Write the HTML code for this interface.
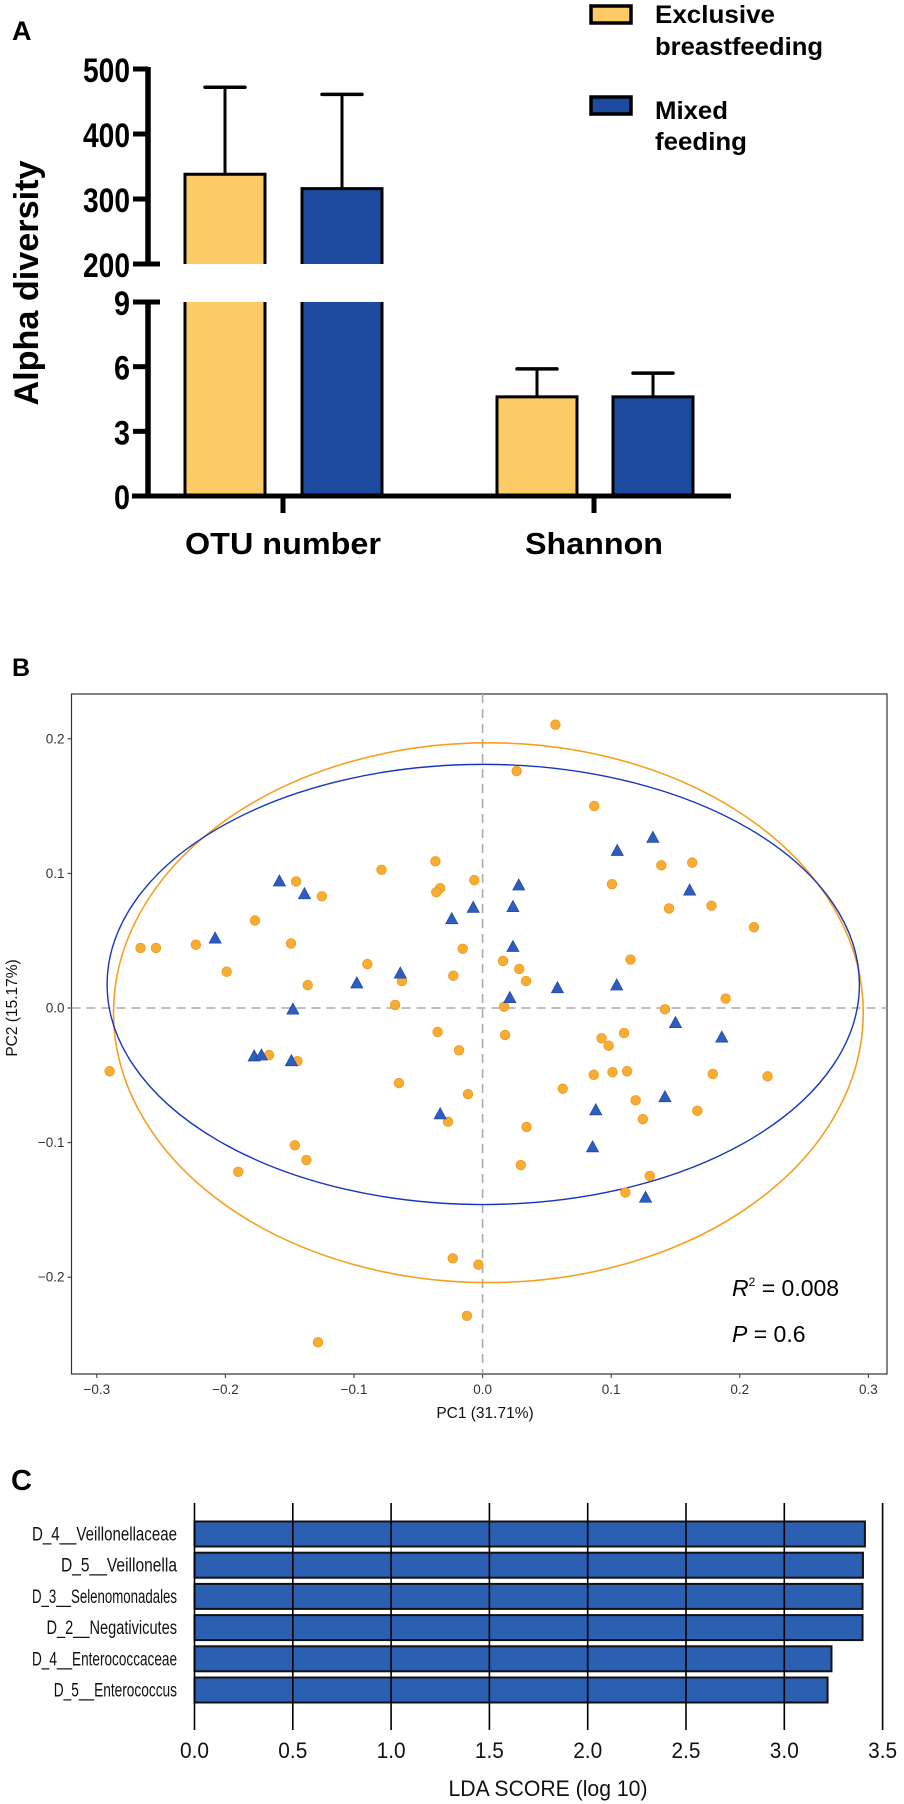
<!DOCTYPE html>
<html><head><meta charset="utf-8"><style>
html,body{margin:0;padding:0;background:#fff;}
svg{display:block;}
text{font-family:"Liberation Sans",sans-serif;}
</style></head><body>
<svg id="fig" width="904" height="1804" viewBox="0 0 904 1804" xmlns="http://www.w3.org/2000/svg">
<g id="pa"></g>
<g id="pb"></g>
<g id="pc"></g>
</svg>
<script>
// ---------- Panel A data ----------
const aGroups = ["OTU number", "Shannon"];
const aSeries = ["Exclusive breastfeeding", "Mixed feeding"];
const aMeans = [[338, 316], [4.6, 4.6]];
const aErrTop = [[472, 461], [5.9, 5.7]];
const aUpperTicks = [200, 300, 400, 500];
const aLowerTicks = [0, 3, 6, 9];

// ---------- Panel B data ----------
const ebX = [0.0566,0.0265,0.0868,-0.0367,-0.0786,0.139,0.163,-0.145,-0.125,-0.0065,-0.033,-0.036,0.1006,0.145,0.178,-0.177,0.211,-0.266,-0.254,-0.223,-0.149,-0.0155,-0.199,-0.0896,0.0159,0.115,-0.0228,0.0285,0.0338,-0.136,-0.0627,-0.068,0.0167,0.1418,0.189,-0.035,0.0175,0.0925,0.110,0.098,-0.0183,-0.166,-0.144,-0.290,0.0864,0.101,0.1124,0.179,0.2216,-0.065,0.0623,-0.0114,0.119,0.167,0.1246,-0.0269,0.0342,-0.146,-0.137,0.0297,-0.190,0.130,0.111,-0.0232,-0.0033,-0.0122,-0.128];
const ebY = [0.2105,0.176,0.150,0.109,0.1027,0.106,0.108,0.094,0.083,0.095,0.089,0.086,0.092,0.074,0.076,0.065,0.060,0.0446,0.0446,0.047,0.048,0.044,0.027,0.0326,0.035,0.036,0.024,0.029,0.020,0.017,0.020,0.0023,0.001,-0.001,0.007,-0.0178,-0.020,-0.0225,-0.0186,-0.028,-0.0314,-0.035,-0.0395,-0.047,-0.0496,-0.0477,-0.047,-0.049,-0.0508,-0.0558,-0.060,-0.064,-0.0686,-0.0764,-0.0826,-0.0845,-0.0884,-0.102,-0.113,-0.1167,-0.1217,-0.1248,-0.137,-0.186,-0.1907,-0.2287,-0.2484];
const mfX = [0.1324,0.1047,-0.158,-0.1385,0.0281,0.161,-0.0073,0.0236,-0.024,-0.208,0.0236,-0.064,-0.0978,0.0582,0.1043,0.0212,-0.1475,0.150,0.186,-0.1776,-0.172,-0.1487,0.1418,0.088,-0.033,0.0855,0.1267];
const mfY = [0.1264,0.1167,0.094,0.0845,0.091,0.0872,0.0744,0.075,0.066,0.0516,0.0453,0.0256,0.0182,0.0147,0.0167,0.0074,-0.0012,-0.0112,-0.022,-0.036,-0.0353,-0.0395,-0.0663,-0.076,-0.079,-0.1035,-0.141];
const ellipseEB = [0.0045, -0.0035, 0.2915, 0.2005];
const ellipseMF = [0.0005, 0.0175, 0.2925, 0.1635];
const bXTicks = [-0.3,-0.2,-0.1,0.0,0.1,0.2,0.3];
const bXTickLabels = ["\u22120.3","\u22120.2","\u22120.1","0.0","0.1","0.2","0.3"];
const bYTicks = [-0.2,-0.1,0.0,0.1,0.2];
const bYTickLabels = ["\u22120.2","\u22120.1","0.0","0.1","0.2"];

// ---------- Panel C data ----------
const cTaxa = ["D_4__Veillonellaceae","D_5__Veillonella","D_3__Selenomonadales","D_2__Negativicutes","D_4__Enterococcaceae","D_5__Enterococcus"];
const cScores = [3.41, 3.40, 3.398, 3.398, 3.24, 3.22];
const cTicks = [0.0,0.5,1.0,1.5,2.0,2.5,3.0,3.5];
const cTickLabels = ["0.0","0.5","1.0","1.5","2.0","2.5","3.0","3.5"];

const NS = "http://www.w3.org/2000/svg";
function mk(parent, tag, attrs, txt) {
  const e = document.createElementNS(NS, tag);
  for (const k in attrs) e.setAttribute(k, attrs[k]);
  if (txt !== undefined) e.textContent = txt;
  parent.appendChild(e);
  return e;
}

// ================= PANEL A =================
(function(){
  const g = document.getElementById('pa');
  const yU = v => 264 - (v - 200) * 0.65;
  const yL = v => 496 - v * (194 / 9);
  const yv = v => v >= 200 ? yU(v) : yL(v);
  const colors = ["#FCCB66", "#1D4BA0"];
  const barX = [[185, 302], [497, 613]];
  const bw = 80;
  let t;
  t = mk(g, 'text', {x:12, y:40, 'font-size':27, 'font-weight':'bold'}, 'A');
   
  for (let i = 0; i < aGroups.length; i++) {
    for (let j = 0; j < aSeries.length; j++) {
      const x = barX[i][j], m = aMeans[i][j], cx = x + bw / 2;
      const eb = mk(g, 'line', {x1:cx, x2:cx, y1:yv(aErrTop[i][j]), y2:yv(m), stroke:'#000', 'stroke-width':3});
       
      const cap = mk(g, 'line', {x1:cx-20, x2:cx+20, y1:yv(aErrTop[i][j]), y2:yv(aErrTop[i][j]), stroke:'#000', 'stroke-width':3.5, 'stroke-linecap':'round'});
       
      if (m >= 200) {
        const r1 = mk(g, 'path', {d:`M${x},264 L${x},${yU(m)} L${x+bw},${yU(m)} L${x+bw},264`, fill:colors[j], stroke:'#000', 'stroke-width':3});
         
        const r2 = mk(g, 'path', {d:`M${x},302 L${x},496 L${x+bw},496 L${x+bw},302`, fill:colors[j], stroke:'#000', 'stroke-width':3});
         
      } else {
        const r = mk(g, 'rect', {x:x, y:yL(m), width:bw, height:496 - yL(m), fill:colors[j], stroke:'#000', 'stroke-width':3});
         
      }
    }
  }
  let a = mk(g, 'line', {x1:148, x2:148, y1:67, y2:266, stroke:'#000', 'stroke-width':5.5});
   
  a = mk(g, 'line', {x1:148, x2:148, y1:300, y2:498, stroke:'#000', 'stroke-width':5.5});
   
  a = mk(g, 'line', {x1:132, x2:731, y1:496, y2:496, stroke:'#000', 'stroke-width':5});
   
  aUpperTicks.forEach(v => {
    const tk = mk(g, 'line', {x1:133, x2: v === 200 ? 160 : 148, y1:yU(v), y2:yU(v), stroke:'#000', 'stroke-width':5});
     
    const lb = mk(g, 'text', {x:130, y:yU(v)+13, 'font-size':34, 'font-weight':'bold', 'text-anchor':'end', textLength:47, lengthAdjust:'spacingAndGlyphs'}, String(v));
     
  });
  aLowerTicks.forEach(v => {
    const tk = mk(g, 'line', {x1:133, x2: v === 9 ? 160 : 148, y1:yL(v), y2:yL(v), stroke:'#000', 'stroke-width':5});
     
    const lb = mk(g, 'text', {x:130, y:yL(v)+13, 'font-size':34, 'font-weight':'bold', 'text-anchor':'end', textLength:16, lengthAdjust:'spacingAndGlyphs'}, String(v));
     
  });
  const gx = [283, 594], gw = [196, 138];
  aGroups.forEach((n, i) => {
    const tk = mk(g, 'line', {x1:gx[i], x2:gx[i], y1:496, y2:513, stroke:'#000', 'stroke-width':5});
     
    const lb = mk(g, 'text', {x:gx[i], y:554, 'font-size':31, 'font-weight':'bold', 'text-anchor':'middle', textLength:gw[i], lengthAdjust:'spacingAndGlyphs'}, n);
     
  });
  t = mk(g, 'text', {x:38, y:283, 'font-size':34, 'font-weight':'bold', 'text-anchor':'middle', transform:'rotate(-90 38 283)', textLength:245, lengthAdjust:'spacingAndGlyphs'}, 'Alpha diversity');
   
  let r = mk(g, 'rect', {x:591, y:6, width:40, height:17, fill:colors[0], stroke:'#000', 'stroke-width':3.5});
   
  r = mk(g, 'rect', {x:591, y:97, width:40, height:17, fill:colors[1], stroke:'#000', 'stroke-width':3.5});
   
  const leg = [["Exclusive",23,120],["breastfeeding",55,168],["Mixed",119,73],["feeding",150,92]];
  leg.forEach(l => {
    const lt = mk(g, 'text', {x:655, y:l[1], 'font-size':25, 'font-weight':'bold', textLength:l[2], lengthAdjust:'spacingAndGlyphs'}, l[0]);
     
  });
})();

// ================= PANEL B =================
(function(){
  const g = document.getElementById('pb');
  const L = 71.5, T = 694, R = 887, B = 1374;
  const xs = v => 482.6 + v * 1286;
  const ys = v => 1008 - v * 1346;
  let t = mk(g, 'text', {x:12, y:676, 'font-size':25, 'font-weight':'bold'}, 'B');
   
  let f = mk(g, 'rect', {x:L, y:T, width:R-L, height:B-T, fill:'none', stroke:'#333', 'stroke-width':1.2});
   
  let d = mk(g, 'line', {x1:L, x2:R, y1:ys(0), y2:ys(0), stroke:'#aaa', 'stroke-width':1.6, 'stroke-dasharray':'9,6'});
   
  d = mk(g, 'line', {x1:xs(0), x2:xs(0), y1:T, y2:B, stroke:'#aaa', 'stroke-width':1.6, 'stroke-dasharray':'9,6'});
   
  let e = mk(g, 'ellipse', {cx:xs(ellipseEB[0]), cy:ys(ellipseEB[1]), rx:ellipseEB[2]*1286, ry:ellipseEB[3]*1346, fill:'none', stroke:'#F5A020', 'stroke-width':1.6});
   
  e = mk(g, 'ellipse', {cx:xs(ellipseMF[0]), cy:ys(ellipseMF[1]), rx:ellipseMF[2]*1286, ry:ellipseMF[3]*1346, fill:'none', stroke:'#1736BE', 'stroke-width':1.4});
   
  ebX.forEach((v, i) => {
    const c = mk(g, 'circle', {cx:xs(v), cy:ys(ebY[i]), r:4.8, fill:'#F7AC33', stroke:'#F09A1A', 'stroke-width':0.8});
     
  });
  mfX.forEach((v, i) => {
    const cx = xs(v), cy = ys(mfY[i]);
    const p = mk(g, 'polygon', {points:`${cx},${cy-6.5} ${cx-6},${cy+4.5} ${cx+6},${cy+4.5}`, fill:'#2F5DBE', stroke:'#2449A8', 'stroke-width':0.8});
     
  });
  bXTicks.forEach((v, i) => {
    const tk = mk(g, 'line', {x1:xs(v), x2:xs(v), y1:B, y2:B+4, stroke:'#333', 'stroke-width':1});
     
    const lb = mk(g, 'text', {x:xs(v), y:B+20, 'font-size':13.5, 'text-anchor':'middle', fill:'#333'}, bXTickLabels[i]);
     
  });
  bYTicks.forEach((v, i) => {
    const tk = mk(g, 'line', {x1:L-4, x2:L, y1:ys(v), y2:ys(v), stroke:'#333', 'stroke-width':1});
     
    const lb = mk(g, 'text', {x:L-7, y:ys(v)+4.5, 'font-size':13.5, 'text-anchor':'end', fill:'#333'}, bYTickLabels[i]);
     
  });
  t = mk(g, 'text', {x:485, y:1418, 'font-size':15.5, 'text-anchor':'middle', fill:'#111'}, 'PC1  (31.71%)');
   
  t = mk(g, 'text', {x:17, y:1008, 'font-size':15.5, 'text-anchor':'middle', fill:'#111', transform:'rotate(-90 17 1008)'}, 'PC2  (15.17%)');
   
  t = mk(g, 'text', {x:732, y:1296, 'font-size':23, fill:'#000'});
   
  mk(t, 'tspan', {'font-style':'italic'}, 'R');
  mk(t, 'tspan', {'font-size':12, dy:-10}, '2');
  mk(t, 'tspan', {dy:10}, ' = 0.008');
  t = mk(g, 'text', {x:732, y:1342, 'font-size':23, fill:'#000'});
   
  mk(t, 'tspan', {'font-style':'italic'}, 'P');
  mk(t, 'tspan', {}, ' = 0.6');
})();

// ================= PANEL C =================
(function(){
  const g = document.getElementById('pc');
  const xs = v => 194.5 + v * 196.6;
  const rowY = i => 1521.5 + i * 31.2;
  const bh = 25;
  let t = mk(g, 'text', {x:11, y:1490, 'font-size':29, 'font-weight':'bold'}, 'C');
   
  cTaxa.forEach((n, i) => {
    const y = rowY(i);
    const r = mk(g, 'rect', {x:xs(0), y:y, width:xs(cScores[i]) - xs(0), height:bh, fill:'#2B5FB2', stroke:'#111', 'stroke-width':2});
     
    const lb = mk(g, 'text', {x:177, y:y + bh/2 + 6.5, 'font-size':19, 'text-anchor':'end', fill:'#111', textLength:n.length * 7.25, lengthAdjust:'spacingAndGlyphs'}, n);
     
  });
  cTicks.forEach((v, i) => {
    const gl = mk(g, 'line', {x1:xs(v), x2:xs(v), y1:1503, y2:1730, stroke:'#000', 'stroke-width':1.6});
     
    const lb = mk(g, 'text', {x:xs(v), y:1758, 'font-size':22, 'text-anchor':'middle', fill:'#111', textLength:29, lengthAdjust:'spacingAndGlyphs'}, cTickLabels[i]);
     
  });
  t = mk(g, 'text', {x:548, y:1796, 'font-size':22, 'text-anchor':'middle', fill:'#111', textLength:199, lengthAdjust:'spacingAndGlyphs'}, 'LDA SCORE (log 10)');
   
})();
</script>
</body></html>
